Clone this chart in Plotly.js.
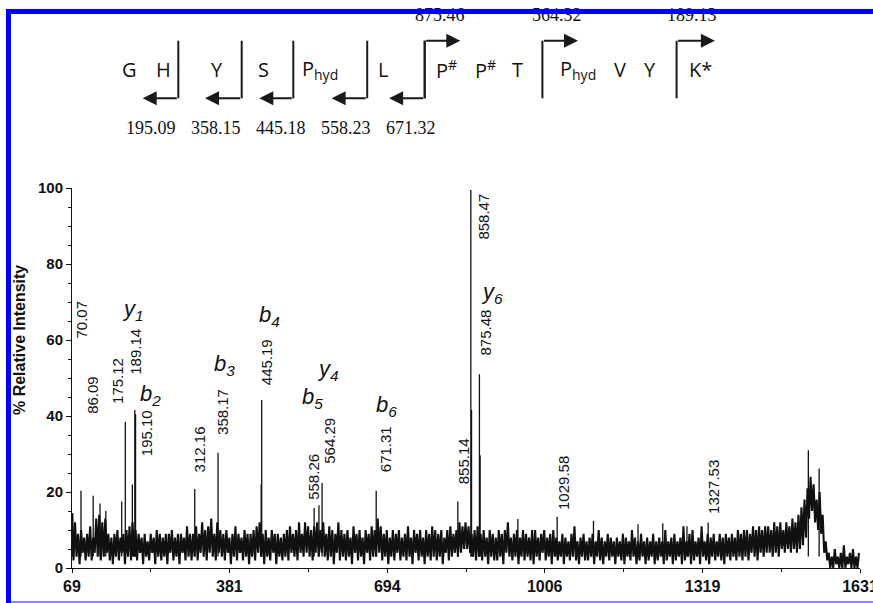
<!DOCTYPE html>
<html>
<head>
<meta charset="utf-8">
<script src="https://cdn.plot.ly/plotly-3.0.1.min.js"></script>
<style>html,body{margin:0;padding:0;background:#fff;}#chart{width:873px;height:603px;}</style>
</head>
<body>
<div id="chart"></div>
<script>
// ---------------- DATA ----------------
// baseline (noise) intensities, sampled every 3 m/z from 69
const mzStart = 69;
const mzStep = 3;
const baseline = [
 14,2,12,3,9,1,10,4,8,2,9,3,11,2,8,4,13,3,14,2,
 12,3,13,4,9,2,8,1,9,3,10,2,8,4,9,1,10,3,11,2,
 12,3,10,2,9,4,8,1,9,3,7,2,9,4,8,1,10,3,9,2,
 8,3,9,1,9,4,10,2,8,3,9,1,9,4,8,2,11,3,9,2,
 9,3,11,2,9,4,12,3,10,2,11,4,13,3,9,2,12,4,10,3,
 9,2,10,4,8,1,9,3,11,2,9,4,8,2,10,3,9,1,9,3,
 10,2,11,4,12,3,9,1,10,3,8,2,10,4,9,1,9,3,8,2,
 9,3,10,2,11,4,9,3,10,2,12,4,9,3,12,4,11,3,10,2,
 11,4,12,3,10,4,12,3,9,2,11,3,10,1,9,4,12,2,10,3,
 9,2,10,3,8,1,11,4,9,2,10,3,8,1,10,4,9,2,11,3,
 10,3,13,4,11,2,9,3,10,1,8,3,10,2,9,4,10,2,8,3,
 9,2,11,3,8,1,10,4,9,2,10,3,8,1,10,3,9,2,11,3,
 10,2,9,3,10,1,8,4,10,2,11,3,9,4,10,3,12,4,11,5,
 12,5,11,4,9,3,10,2,11,3,9,2,10,3,8,1,10,3,9,2,
 8,2,10,3,9,1,10,4,12,3,8,2,9,3,10,1,8,3,10,2,
 9,3,8,2,10,1,10,3,8,2,9,4,10,2,8,3,9,1,10,3,
 8,2,7,3,9,1,8,3,7,2,9,3,11,2,7,1,8,3,9,2,
 7,2,8,3,9,1,7,3,10,2,8,1,7,3,9,2,8,3,7,1,
 8,3,7,2,9,1,8,3,7,2,10,3,8,1,7,2,9,3,7,1,
 8,2,7,3,9,1,7,2,8,3,7,1,10,2,7,3,8,1,9,2,
 7,3,8,1,11,2,7,3,9,1,10,2,7,3,8,1,11,3,7,2,
 9,1,8,3,9,2,7,3,9,2,8,1,9,3,8,2,9,3,8,2,
 10,3,9,2,10,3,10,2,9,4,11,3,10,2,11,4,10,3,11,4,
 11,4,10,3,12,4,11,3,12,5,10,4,12,5,11,4,13,5,12,4,
 14,5,16,6,18,8,21,13,24,15,22,12,18,10,20,9,14,4,7,2,
 4,0,3,0,5,1,3,0,4,0,6,0,3,1,4,0,5,0,3,0,4
];
const peakMz  = [70.5, 86.8, 111, 124.5, 136, 167.5, 174.7, 188.6, 193.5, 195, 312.3, 358.5, 444, 445, 549, 558.5, 564.7, 672, 833.8, 859.6, 861, 876.6, 878, 952.8, 1030.7, 1102.7, 1191, 1240, 1288, 1330, 1528.6, 1550];
const peakInt = [14.5, 20.3, 19, 17, 15, 17.5, 38.5, 22, 41.6, 40.5, 20.8, 30.3, 22, 44.2, 15.8, 16.5, 22.4, 20.3, 17.5, 99.5, 41.6, 51, 29.7, 12.9, 13.5, 12.4, 11.5, 11.8, 11, 12, 31, 26.2];
// peak m/z labels
const peakLabels = ['70.07','86.09','175.12','189.14','195.10','312.16','358.17','445.19','558.26','564.29','671.31','858.47','875.48','855.14','1029.58','1327.53'];
// ion labels
const ionLabels = ['y|1','b|2','b|3','b|4','y|4','b|5','b|6','y|6'];
// axis ticks
const xTickVals = [69, 381, 694, 1006, 1319, 1631];
const xTickText = ['69','381','694','1006','1319','1631'];
// sequence diagram
const seqLetters = ['G','H','Y','S','P<sub>hyd</sub>','L','P<sup>#</sup>','P<sup>#</sup>','T','P<sub>hyd</sub>','V','Y','K*'];
const bIonMasses = ['195.09','358.15','445.18','558.23','671.32'];
const yIonMasses = ['875.46','564.32','189.13'];

// ---------------- LAYOUT CONSTANTS ----------------
const ML = 72, MR = 13, MT = 188, MB = 35, W = 873, H = 603;
const PW = W - ML - MR, PH = H - MT - MB;
const PX = px => (px - ML) / PW;
const PY = py => (H - MB - py) / PH;

// label positions [m/z, intensity] (centres of rotated texts)
const peakLabelPos = [[88.2,65.3],[108.1,45.5],[158.8,49.3],[195.9,56.9],[217.1,35.4],[321.4,31.3],[365.8,41],[455.1,54.1],[547.5,24.1],[580.6,33.5],[689.7,31.3],[884.6,92.6],[887.9,62],[844.9,28.2],[1043.2,22.5],[1340.6,21.2]];
const ionLabelPos = [[189,67.9],[223.7,45.5],[370.4,53.4],[459.6,66.3],[575.6,52.1],[544.9,44.7],[691.6,42.6],[901.8,72.5]];

// diagram pixel positions
const letterPx = [[129.7,'center'],[163.3,'center'],[216.7,'center'],[263.3,'center'],[300,'left'],[383,'center'],[434,'left'],[472.5,'left'],[517.8,'center'],[557.5,'left'],[620,'center'],[650,'center'],[687,'left']];
const letterY = 69;
const bArrows = [[178.3,142.7],[241.7,205],[293.3,259.3],[367.2,331.6],[424.7,389.1]];
const yArrows = [[424.7,460.3],[542.4,578],[676.6,714.9]];
const vTop = 40.7, vBot = 98.3;
const bMassPx = [150.8,215.8,280.8,345.8,410.8];
const yMassPx = [440,557,692];

// ---------------- BUILD SPECTRUM ----------------
const baseX = baseline.map((v, i) => mzStart + i * mzStep);
const stickX = [], stickY = [];
peakMz.forEach((m, i) => { stickX.push(m, m, null); stickY.push(3, peakInt[i], null); });

const traces = [
  {type: 'scatter', mode: 'lines', x: baseX, y: baseline,
   line: {color: '#111', width: 2.1}, hoverinfo: 'skip'},
  {type: 'scatter', mode: 'lines', x: stickX, y: stickY,
   line: {color: '#111', width: 1.3}, hoverinfo: 'skip'}
];

const annotations = [];
const shapes = [];
const inkFont = {family: 'Liberation Sans, Arial, sans-serif', size: 15, color: '#111'};

peakLabels.forEach((t, i) => {
  annotations.push({xref: 'x', yref: 'y', x: peakLabelPos[i][0], y: peakLabelPos[i][1], xanchor: 'center', yanchor: 'middle',
    text: t, textangle: -90, showarrow: false, font: inkFont});
});
ionLabels.forEach((t, i) => {
  const [a, s] = t.split('|');
  annotations.push({xref: 'x', yref: 'y', x: ionLabelPos[i][0], y: ionLabelPos[i][1], xanchor: 'center', yanchor: 'middle',
    text: '<i>' + a + '<sub>' + s + '</sub></i>', showarrow: false,
    font: {family: 'Liberation Sans, Arial, sans-serif', size: 22, color: '#111'}});
});

// y-axis title
annotations.push({xref: 'paper', yref: 'paper', x: PX(19), y: PY(340), xanchor: 'center', yanchor: 'middle', text: '<b>% Relative Intensity</b>',
  textangle: -90, showarrow: false, font: {family: 'Liberation Sans, Arial, sans-serif', size: 16, color: '#111'}});
// x-axis title (cut off by the page edge)
annotations.push({xref: 'paper', yref: 'paper', x: PX(479), y: PY(596), xanchor: 'center', yanchor: 'top', text: '<b>m/z</b>',
  showarrow: false, font: {family: 'Liberation Sans, Arial, sans-serif', size: 15, color: '#111'}});

// sequence letters
seqLetters.forEach((t, i) => {
  annotations.push({xref: 'paper', yref: 'paper', x: PX(letterPx[i][0]), y: PY(letterY), xanchor: letterPx[i][1], yanchor: 'middle',
    text: t, showarrow: false, font: {family: 'Open Sans, Liberation Sans, sans-serif', size: 20, color: '#111'}});
});
// b-ion masses
bIonMasses.forEach((t, i) => {
  annotations.push({xref: 'paper', yref: 'paper', x: PX(bMassPx[i]), y: PY(128), xanchor: 'center', yanchor: 'middle',
    text: t, showarrow: false, font: {family: 'Liberation Serif, Times New Roman, serif', size: 18, color: '#111'}});
});
// y-ion masses
yIonMasses.forEach((t, i) => {
  annotations.push({xref: 'paper', yref: 'paper', x: PX(yMassPx[i]), y: PY(15), xanchor: 'center', yanchor: 'middle',
    text: t, showarrow: false, font: {family: 'Liberation Serif, Times New Roman, serif', size: 18, color: '#111'}});
});
// arrows
const arrowStyle = {showarrow: true, arrowhead: 2, arrowsize: 1.4, arrowwidth: 2, arrowcolor: '#1a1a1a', standoff: 0, text: '', axref: 'pixel', ayref: 'pixel'};
bArrows.forEach(([vx, tip]) => {
  shapes.push({type: 'line', xref: 'paper', yref: 'paper', x0: PX(vx), x1: PX(vx), y0: PY(vTop), y1: PY(vBot), line: {color: '#1a1a1a', width: 2}});
  annotations.push(Object.assign({xref: 'paper', yref: 'paper', x: PX(tip), y: PY(vBot), ax: vx - tip, ay: 0}, arrowStyle));
});
yArrows.forEach(([vx, tip]) => {
  shapes.push({type: 'line', xref: 'paper', yref: 'paper', x0: PX(vx), x1: PX(vx), y0: PY(vTop), y1: PY(vBot), line: {color: '#1a1a1a', width: 2}});
  annotations.push(Object.assign({xref: 'paper', yref: 'paper', x: PX(tip), y: PY(vTop), ax: vx - tip, ay: 0}, arrowStyle));
});

// blue frame
shapes.push({type: 'rect', xref: 'paper', yref: 'paper', x0: PX(6), x1: PX(11), y0: PY(10), y1: PY(603), fillcolor: '#0000ff', line: {width: 0}});
annotations.push({xref: 'paper', yref: 'paper', x: PX(6), y: PY(9.5), xanchor: 'left', yanchor: 'top', text: ' ',
  width: 867, height: 4.5, bgcolor: '#0000ff', borderwidth: 0, borderpad: 0, showarrow: false, font: {size: 2}});
annotations.push({xref: 'paper', yref: 'paper', x: PX(11), y: PY(601), xanchor: 'left', yanchor: 'top', text: ' ',
  width: 862, height: 1.5, bgcolor: '#8c8cff', borderwidth: 0, borderpad: 0, showarrow: false, font: {size: 1}});

const yTickFont = {family: 'Liberation Sans, Arial, sans-serif', size: 15, color: '#111', weight: 'bold'};
const xTickFont = {family: 'Liberation Sans, Arial, sans-serif', size: 16, color: '#111', weight: 'bold'};
const minorX = [];
for (let i = 0; i < xTickVals.length - 1; i++) minorX.push((xTickVals[i] + xTickVals[i + 1]) / 2);

const layout = {
  width: W, height: H,
  margin: {l: ML, r: MR, t: MT, b: MB, pad: 0},
  paper_bgcolor: '#fff', plot_bgcolor: '#fff',
  showlegend: false,
  xaxis: {range: [69, 1631], tickmode: 'array', tickvals: xTickVals, ticktext: xTickText,
    ticks: 'outside', ticklen: 4, tickwidth: 1, tickcolor: '#111', ticklabeloverflow: 'allow',
    showline: true, linecolor: '#111', linewidth: 1, showgrid: false, zeroline: false,
    tickfont: xTickFont, fixedrange: true,
    minor: {tickmode: 'array', tickvals: minorX, ticks: 'outside', ticklen: 3, tickcolor: '#111', showgrid: false}},
  yaxis: {range: [0, 100], tick0: 0, dtick: 20, ticks: 'outside', ticklen: 5, tickwidth: 1, tickcolor: '#111',
    showline: true, linecolor: '#111', linewidth: 1, showgrid: false, zeroline: false,
    tickfont: yTickFont, fixedrange: true,
    minor: {dtick: 5, ticks: 'outside', ticklen: 3, tickcolor: '#111', showgrid: false}},
  annotations: annotations,
  shapes: shapes
};

Plotly.newPlot('chart', traces, layout, {displayModeBar: false, staticPlot: true});
</script>
</body>
</html>
